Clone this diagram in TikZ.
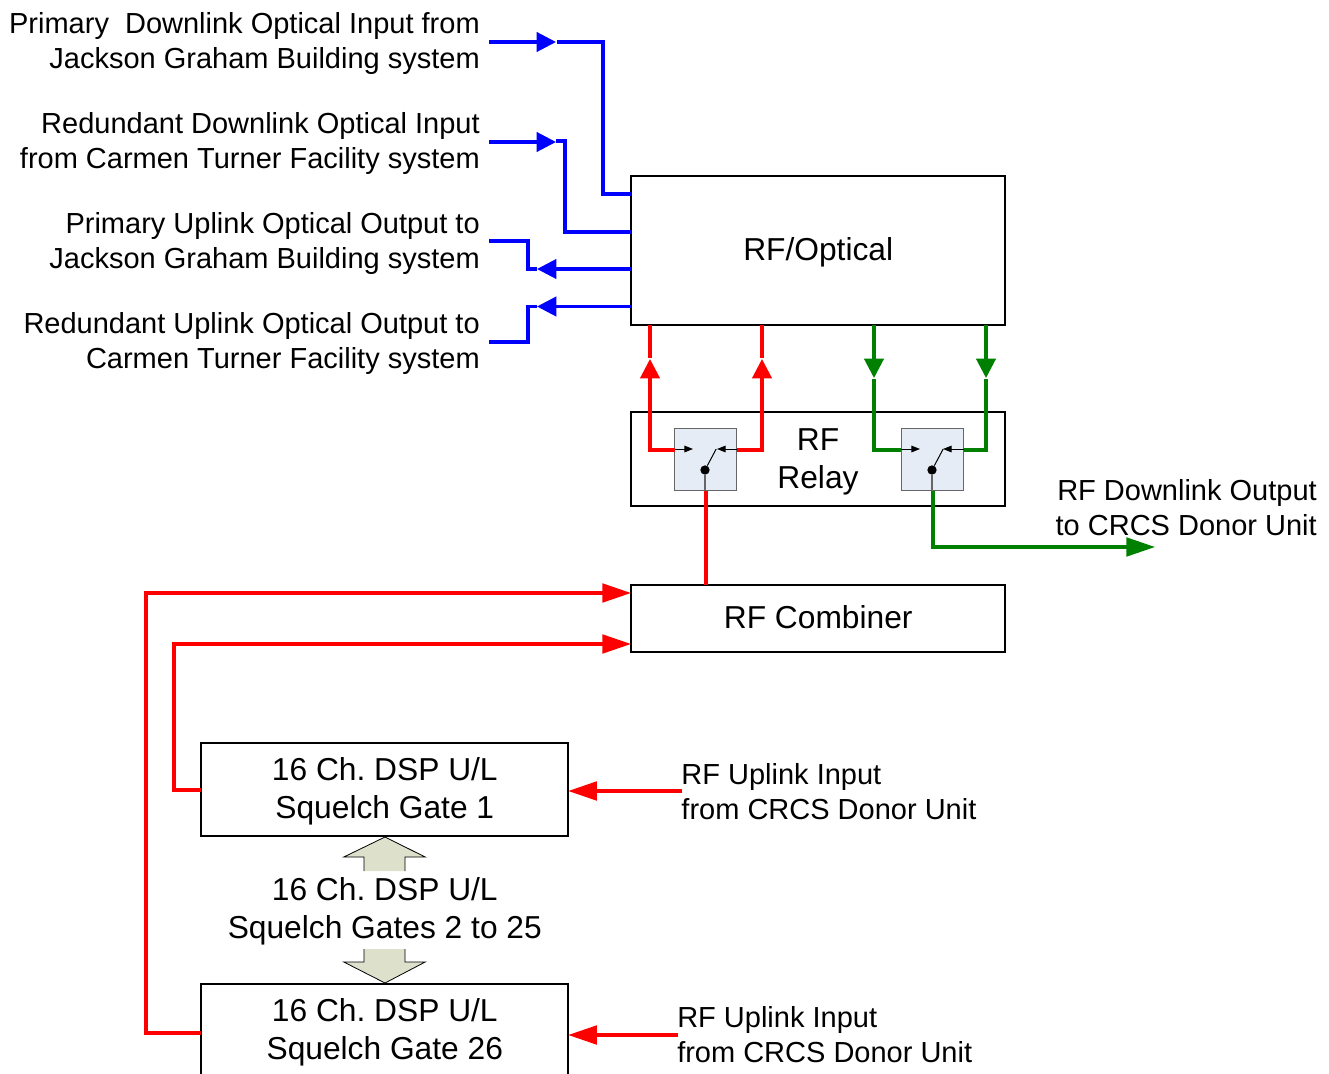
\documentclass[tikz,border=0pt]{standalone}
\usepackage{fontspec}
\setmainfont{Liberation Sans}
\frenchspacing
\usetikzlibrary{arrows.meta}
\tikzset{
  x=0.75pt,y=-0.75pt,
  boxn/.style={draw=black,line width=1.5pt,fill=white,inner sep=0pt,anchor=north west},
  boxt/.style={inner sep=0pt,align=center,font=\fontsize{23.8}{28.5}\selectfont},
  lab/.style={inner sep=0pt,font=\fontsize{21.75}{26.25}\selectfont},
  labr/.style={lab,anchor=east,align=right},
  labl/.style={lab,anchor=west,align=left},
  blueline/.style={draw=blue,line width=2.3pt},
  redline/.style={draw=red,line width=2.3pt},
  greenline/.style={draw=green!50!black,line width=2.3pt},
  smalltip/.style={-{Triangle[length=14.5pt,width=14.5pt]}},
  longtip/.style={-{Triangle[length=21.5pt,width=14pt]}},
  relaybox/.style={draw=black!60,line width=0.9pt,fill=relayfill,inner sep=0pt,minimum width=46.5pt,minimum height=46.5pt},
  swline/.style={draw=black,line width=0.75pt},
  swtip/.style={-{Triangle[length=6.5pt,width=5pt]}},
  swdot/.style={circle,fill=black,inner sep=0pt,minimum size=7pt},
  blockarrow/.style={fill=blockfill,draw=none},
  blockedge/.style={draw=black,line width=0.6pt},
}
\definecolor{relayfill}{HTML}{E6ECF6}
\definecolor{blockfill}{HTML}{DDE0CB}
\begin{document}
\begin{tikzpicture}
\useasboundingbox (0.8,0.8) rectangle (1329.8,1074.8);
\clip (0.8,0.8) rectangle (1329.8,1074.8);
% boxes
\node[boxn,minimum width=280.5pt,minimum height=111.75pt] (opt) at (631,176) {};
\node[boxt] (optt) at (819,253.3) {RF/Optical};
\node[boxn,minimum width=280.5pt,minimum height=70.5pt] (relay) at (631,412) {};
\node[boxt] (relayt) at (818.8,462.3) {RF\\Relay};
\node[boxn,minimum width=280.5pt,minimum height=50.25pt] (comb) at (631,585) {};
\node[boxt] (combt) at (819,618.3) {RF Combiner};
\node[boxn,minimum width=275.25pt,minimum height=69.75pt] (sq1) at (201,743) {};
\node[boxt] (sq1t) at (385.6,792.2) {16 Ch. DSP U/L\\Squelch Gate 1};
\node[boxn,minimum width=275.25pt,minimum height=94.5pt] (sq26) at (201,984) {};
\node[boxt] (sq26t) at (385.6,1032.8) {16 Ch. DSP U/L\\Squelch Gate 26};
\node[boxt] (sqmid) at (385.6,911.8) {16 Ch. DSP U/L\\Squelch Gates 2 to 25};
% left labels
\node[labr] (l1) at (480.8,44.8) {Primary\ \ Downlink Optical Input from\\Jackson Graham Building system};
\node[labr] (l2) at (480.8,144.8) {Redundant Downlink Optical Input\\from Carmen Turner Facility system};
\node[labr] (l3) at (480.8,243.9) {Primary Uplink Optical Output to\\Jackson Graham Building system};
\node[labr] (l4) at (480.8,344.8) {Redundant Uplink Optical Output to\\Carmen Turner Facility system};
\node[labr] (l5) at (1317.8,508.8) {RF Downlink Output\\to CRCS Donor Unit};
\node[labl] (l6) at (682,792.8) {RF Uplink Input\\from CRCS Donor Unit};
\node[labl] (l7) at (677.8,1035.8) {RF Uplink Input\\from CRCS Donor Unit};
% free ends
\coordinate (a1) at (490,42.8); \coordinate (t1) at (556.8,42.8);
\coordinate (a2) at (490,142.8); \coordinate (t2) at (556.8,142.8);
\coordinate (a3) at (490,241.8); \coordinate (t3) at (537.8,269.8);
\coordinate (a4) at (490,342.8); \coordinate (t4) at (537.8,307.3);
% blue
\draw[blueline,smalltip] (a1) -- (t1);
\draw[blueline] (557.8,42.8) -| (603.8,194.8) -- (631.8,194.8);
\draw[blueline,smalltip] (a2) -- (t2);
\draw[blueline] (556.8,141.8) -- (565.8,141.8) |- (631.8,232.8);
\draw[blueline] (a3) -- (528.8,241.8) |- (537.8,269.8);
\draw[blueline,smalltip] (631.8,269.8) -- (t3);
\draw[blueline] (a4) -- (528.8,342.8) |- (t4);
\draw[blueline,smalltip] (631.8,307.3) -- (t4);
% relay squares
\node[relaybox] (s1) at (706,460.5) {};
\node[relaybox] (s2) at (933,460.5) {};
\node[swdot] (d1) at (705.8,470.8) {};
\node[swdot] (d2) at (932.8,470.8) {};
\draw[draw=black!60,line width=0.9pt] (d1) -- (s1.south -| d1);
\draw[draw=black!60,line width=0.9pt] (d2) -- (s2.south -| d2);
\draw[swline] (d1) -- (717,449.8);
\draw[swline] (d2) -- (944,449.8);
\draw[swline,swtip] (s1.west |- 0,449.8) -- (693.8,449.8);
\draw[swline,swtip] (s1.east |- 0,449.8) -- (717.8,449.8);
\draw[swline,swtip] (s2.west |- 0,449.8) -- (920.8,449.8);
\draw[swline,swtip] (s2.east |- 0,449.8) -- (943.8,449.8);
% red
\draw[redline,smalltip] (675.8,450.8) -- (650.8,450.8) -- (650.8,359.8);
\draw[redline] (650.8,358.8) -- (650.8,325.8);
\draw[redline,smalltip] (737.8,450.8) -- (762.8,450.8) -- (762.8,359.8);
\draw[redline] (762.8,358.8) -- (762.8,325.8);
\draw[redline] (706.8,491.8) -- (706.8,585.8);
\draw[redline,longtip] (201.8,1033.8) -- (146.8,1033.8) |- (631.8,593.8);
\draw[redline,longtip] (201.8,790.8) -- (174.8,790.8) |- (631.8,644.8);
\draw[redline,longtip] (682.8,791.8) -- (569,791.8);
\draw[redline,longtip] (678.8,1035.8) -- (569,1035.8);
% green
\draw[greenline,smalltip] (874.8,325.8) -- (874.8,378.8);
\draw[greenline] (874.8,379.8) |- (901.8,450.8);
\draw[greenline,smalltip] (986.8,325.8) -- (986.8,378.8);
\draw[greenline] (986.8,379.8) |- (964.8,450.8);
\draw[greenline,longtip] (933.8,491.8) |- (1155.8,547.8);
% block arrows
\fill[blockarrow] (385.8,837.8) -- (426,857.8) -- (405.8,857.8) -- (405.8,871.8) -- (364.8,871.8) -- (364.8,857.8) -- (344.6,857.8) -- cycle;
\draw[blockedge] (364.8,871.8) -- (364.8,857.8) -- (344.6,857.8) -- (385.8,837.8) -- (426,857.8) -- (405.8,857.8) -- (405.8,871.8);
\fill[blockarrow] (385.8,983.8) -- (426,962.8) -- (405.8,962.8) -- (405.8,949.8) -- (364.8,949.8) -- (364.8,962.8) -- (344.6,962.8) -- cycle;
\draw[blockedge] (364.8,949.8) -- (364.8,962.8) -- (344.6,962.8) -- (385.8,983.8) -- (426,962.8) -- (405.8,962.8) -- (405.8,949.8);
\end{tikzpicture}
\end{document}
